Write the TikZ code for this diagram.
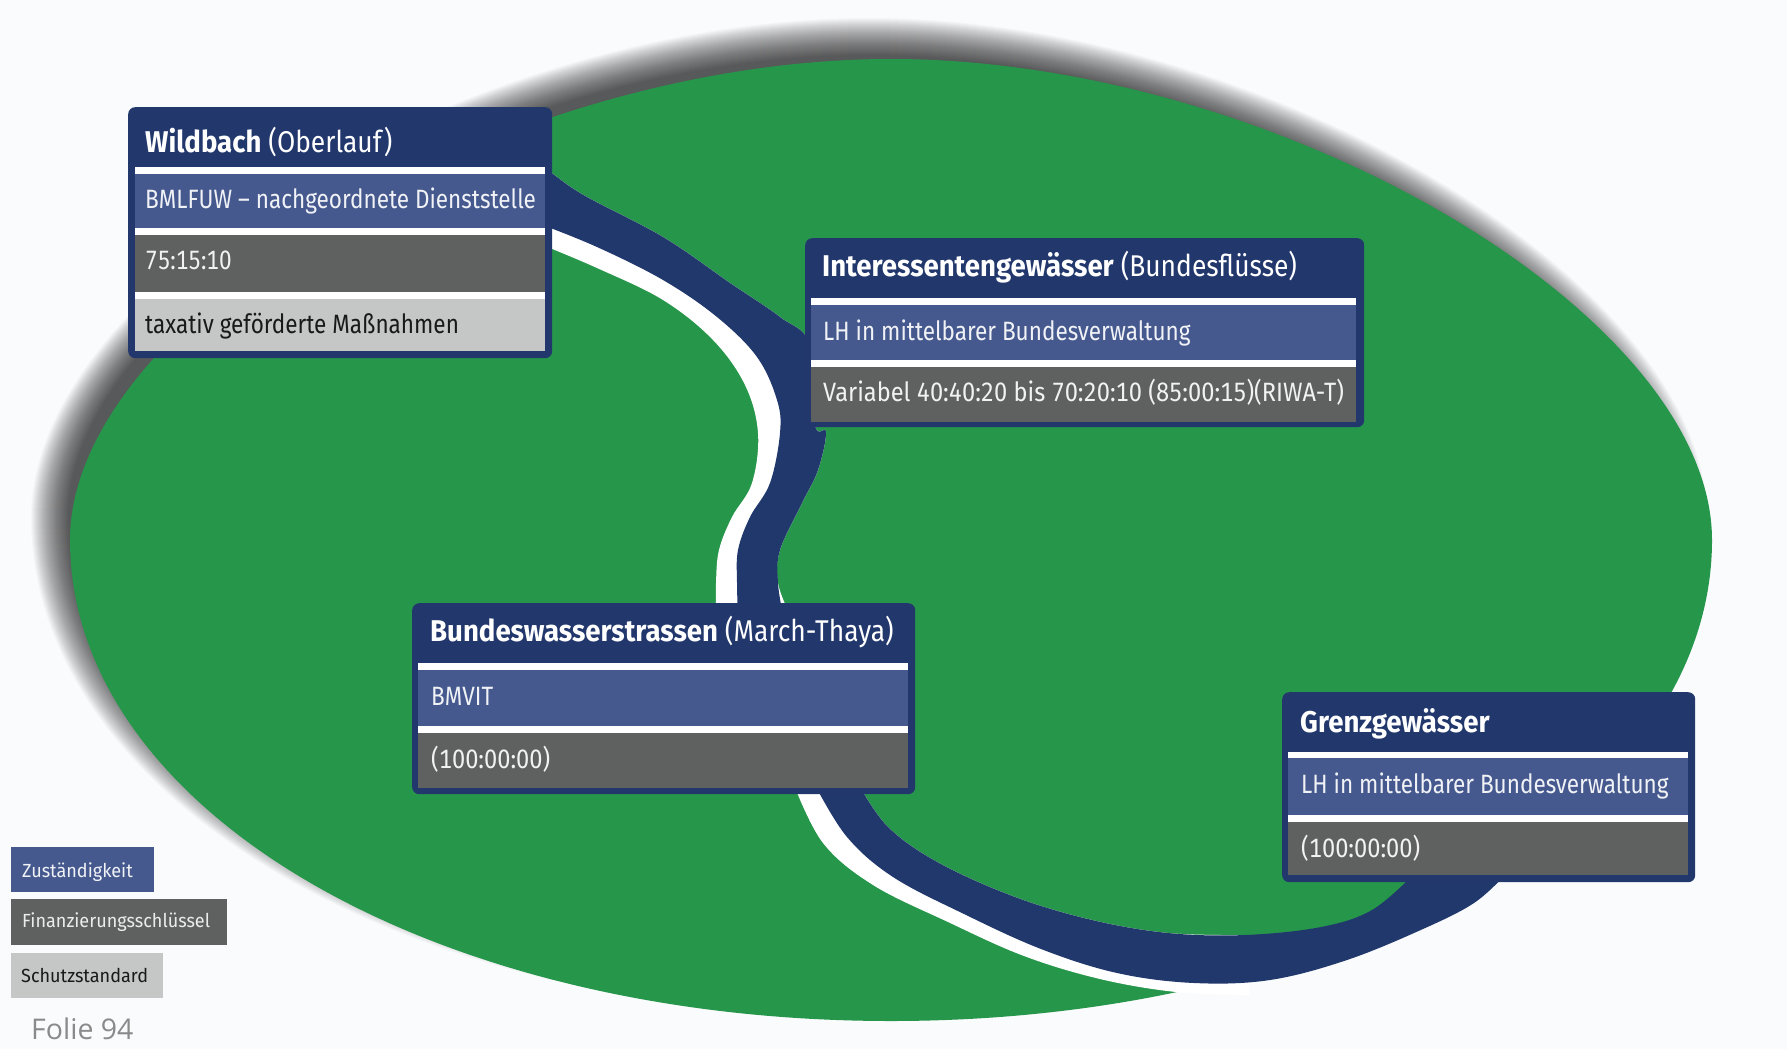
\documentclass[tikz,border=0pt]{standalone}
\usepackage{fontspec}
\setmainfont{Fira Sans}
\newfontfamily\boxfont{Fira Sans}[FakeStretch=0.85, Numbers=Monospaced]
\newfontfamily\figfont{Fira Sans}[FakeStretch=0.89, Numbers=Monospaced]
\newfontfamily\titlefont{Fira Sans}[FakeStretch=0.88]
\newfontfamily\boxbold{Fira Sans Bold}[FakeStretch=0.92]
\newfontfamily\legendfont{Fira Sans}[FakeStretch=0.95]
\newfontfamily\foliofont{Open Sans}
\definecolor{bgc}{HTML}{FAFBFD}
\definecolor{meadow}{HTML}{26964A}
\definecolor{rivernavy}{HTML}{21386C}
\definecolor{framenavy}{HTML}{22386D}
\definecolor{rowblue}{HTML}{45598F}
\definecolor{rowdark}{HTML}{5F6160}
\definecolor{rowlight}{HTML}{C5C7C7}
\definecolor{foliogray}{HTML}{8A8A8A}
% egg-shaped outline: centre x, centre y, half width, upper and lower half height
\newcommand\eggpath[5]{%
  ({#1+#3},{#2}) .. controls ({#1+#3},{#2-0.47*#4}) and ({#1+0.47*#3},{#2-#4}) .. ({#1},{#2-#4})
  .. controls ({#1-0.47*#3},{#2-#4}) and ({#1-#3},{#2-0.47*#4}) .. ({#1-#3},{#2})
  .. controls ({#1-#3},{#2+0.56*#5}) and ({#1-0.56*#3},{#2+#5}) .. ({#1},{#2+#5})
  .. controls ({#1+0.56*#3},{#2+#5}) and ({#1+#3},{#2+0.56*#5}) .. ({#1+#3},{#2}) -- cycle}
\begin{document}
\begin{tikzpicture}[x=1pt,y=-1pt,
  boxframe/.style={fill=framenavy, rounded corners=7pt, anchor=north west, inner sep=0pt, draw=none},
  cell/.style={anchor=north west, inner sep=0pt, draw=none},
  cellblue/.style={cell, fill=rowblue},
  celldark/.style={cell, fill=rowdark},
  celllight/.style={cell, fill=rowlight},
  titletext/.style={anchor=base west, inner sep=0pt, text=white, font=\titlefont\fontsize{30}{34}\selectfont},
  celltext/.style={anchor=base west, inner sep=0pt, font=\boxfont\fontsize{26.5}{30}\selectfont},
  onblue/.style={celltext, text=white!92!rowblue},
  ondark/.style={celltext, text=white!92!rowdark},
  onlight/.style={celltext, text=black!90},
  legendbox/.style={anchor=north west, inner sep=0pt, draw=none, minimum height=45pt},
  legendtext/.style={anchor=base west, inner sep=0pt, font=\legendfont\fontsize{19}{22}\selectfont},
]
\useasboundingbox (0,0) rectangle (1787,1049);
\fill[bgc] (0,0) rectangle (1787,1049);

% soft shadow above the meadow
\foreach \k in {0,1,...,37}{
  \pgfmathsetmacro\rx{801+\k}
  \pgfmathsetmacro\ry{462+\k}
  \fill[black, opacity=0.022] \eggpath{869}{517}{\rx}{\ry}{\ry};
}
% meadow
\fill[meadow] \eggpath{891}{540}{821}{481}{481};

% white banks of the river
\fill[white] plot[smooth, tension=0.6] coordinates {(540,244) (597,268) (663,300) (713,340) (745,385) (758,433) (752,483) (732,517) (719,550) (716,583) (716,615)}
  -- plot[smooth, tension=0.6] coordinates {(790,615) (778,583) (780,550) (802,503) (818,470) (826,432) (815,425) (810,345) (780,317) (730,283) (663,237) (580,193) (540,163)} -- cycle;
\fill[white] plot[smooth, tension=0.6] coordinates {(794,785) (823,843) (873,885) (948,922) (1024,956) (1100,979) (1176,992) (1250,995)}
  -- plot[smooth, tension=0.6] coordinates {(1245,935) (1168,933) (1092,920) (1015,897) (939,863) (888,827) (859,785)} -- cycle;

% the river
\fill[rivernavy] plot[smooth, tension=0.6] coordinates {(540,163) (580,193) (663,237) (730,283) (780,317) (810,345) (815,425) (826,432) (818,470) (802,503) (780,550) (778,583) (783,615)}
  -- plot[smooth, tension=0.6] coordinates {(738,615) (737,583) (738,550) (750,517) (770,483) (780,433) (777,400) (757,357) (717,317) (663,280) (597,247) (540,224)} -- cycle;
\fill[rivernavy] plot[smooth, tension=0.6] coordinates {(859,785) (888,827) (939,863) (1015,897) (1092,920) (1168,933) (1245,935) (1321,927) (1372,910) (1413,875)}
  -- plot[smooth, tension=0.6] coordinates {(1505,875) (1474,903) (1423,929) (1347,960) (1270,980) (1194,983) (1117,973) (1041,949) (964,914) (893,877) (847,837) (815,785)} -- cycle;

% ---- Wildbach
\node[boxframe, minimum width=424pt, minimum height=251pt] (wb) at (128,107) {};
\fill[white] (135,167) rectangle (545,351);
\node[cellblue, minimum width=410pt, minimum height=54pt] (wbz) at (135,174) {};
\node[celldark, minimum width=410pt, minimum height=57pt] (wbf) at (135,235) {};
\node[celllight, minimum width=410pt, minimum height=52pt] (wbs) at (135,299) {};
\node[titletext] (wbt) at (145,152) {{\boxbold Wildbach} (Oberlauf)};
\node[onblue] (wbzt) at (145,208) {BMLFUW – nachgeordnete Dienststelle};
\node[ondark] (wbft) at (145,269) {75:15:10};
\node[onlight] (wbst) at (145,333) {taxativ geförderte Maßnahmen};

% ---- Interessentengewässer
\node[boxframe, minimum width=559pt, minimum height=189pt] (ig) at (805,238) {};
\fill[white] (811,298) rectangle (1356,422);
\node[cellblue, minimum width=545pt, minimum height=55pt] (igz) at (811,305) {};
\node[celldark, minimum width=545pt, minimum height=55pt] (igf) at (811,367) {};
\node[titletext] (igt) at (822,276) {{\boxbold Interessentengewässer} (Bundesflüsse)};
\node[onblue] (igzt) at (823,340) {LH in mittelbarer Bundesverwaltung};
\node[ondark, font=\figfont\fontsize{26.5}{30}\selectfont] (igft) at (823,401) {Variabel 40:40:20 bis 70:20:10 (85:00:15)(RIWA-T)};

% ---- Bundeswasserstrassen
\node[boxframe, minimum width=503pt, minimum height=191pt] (bw) at (412,603) {};
\fill[white] (418,663) rectangle (908,788);
\node[cellblue, minimum width=490pt, minimum height=56pt] (bwz) at (418,670) {};
\node[celldark, minimum width=490pt, minimum height=55pt] (bwf) at (418,733) {};
\node[titletext] (bwt) at (430,641) {{\boxbold Bundeswasserstrassen} (March-Thaya)};
\node[onblue] (bwzt) at (431,705) {BMVIT};
\node[ondark, font=\figfont\fontsize{26.5}{30}\selectfont] (bwft) at (431,768) {(100:00:00)};

% ---- Grenzgewässer
\node[boxframe, minimum width=413pt, minimum height=190pt] (gg) at (1282,692) {};
\fill[white] (1288,752) rectangle (1688,875);
\node[cellblue, minimum width=400pt, minimum height=57pt] (ggz) at (1288,758) {};
\node[celldark, minimum width=400pt, minimum height=53pt] (ggf) at (1288,822) {};
\node[titletext] (ggt) at (1300,732) {{\boxbold Grenzgewässer}};
\node[onblue] (ggzt) at (1301,793) {LH in mittelbarer Bundesverwaltung};
\node[ondark, font=\figfont\fontsize{26.5}{30}\selectfont] (ggft) at (1301,857) {(100:00:00)};

% ---- legend
\node[legendbox, fill=rowblue, minimum width=143pt] (lgz) at (11,847) {};
\node[legendbox, fill=rowdark, minimum width=216pt, minimum height=46pt] (lgf) at (11,899) {};
\node[legendbox, fill=rowlight, minimum width=152pt] (lgs) at (11,953) {};
\node[legendtext, text=white!92!rowblue] (lgzt) at (22,877) {Zuständigkeit};
\node[legendtext, text=white!88!rowdark] (lgft) at (22,927) {Finanzierungsschlüssel};
\node[legendtext, text=black!90] (lgst) at (21,982) {Schutzstandard};
\node[anchor=base west, inner sep=0pt, text=foliogray, font=\foliofont\fontsize{28.5}{32}\selectfont] (folio) at (31,1039) {Folie 94};
\end{tikzpicture}
\end{document}
